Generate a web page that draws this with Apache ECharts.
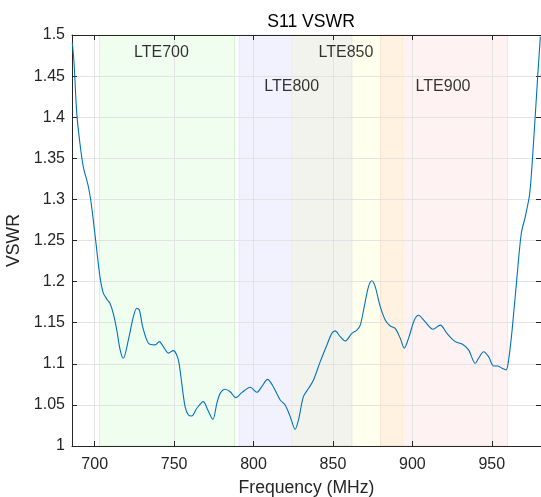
<!DOCTYPE html>
<html>
<head>
<meta charset="utf-8">
<script src="https://cdn.jsdelivr.net/npm/echarts@6/dist/echarts.min.js"></script>
<style>html,body{margin:0;padding:0;background:#fff;}#c{width:541px;height:497px;}</style>
</head>
<body>
<div id="c"></div>
<script>
const freq = [685.9, 687, 688.7, 690.7, 692.8, 696, 697.5, 699.1, 700.8, 703.3,
  705.4, 707.9, 709.6, 711.7, 713.9, 716, 718, 721.2, 724.3, 726.5,
  728.1, 730.2, 733.8, 738, 740.7, 743.2, 746.4, 749.5, 751.6, 753.1,
  754.8, 756.9, 759, 761.1, 764.3, 768.4, 771.2, 774.4, 776.9, 779,
  782.1, 785.3, 788.8, 792.6, 797.9, 802.1, 805.2, 808.8, 811.9, 816.8,
  819.9, 823.1, 826.2, 828.3, 831.4, 834.6, 837.7, 842, 846.2, 849.3,
  851.4, 854.6, 857.7, 861.9, 865.1, 867.2, 869.7, 872.4, 874.5, 876.6,
  879.8, 883, 886.1, 889.2, 892.4, 894.9, 897.6, 901.2, 903.9, 908.1,
  913, 917.6, 921.8, 927, 931.3, 935.4, 939.6, 941.7, 944.9, 948,
  951.2, 953.7, 956.5, 959, 960.6, 962.8, 965.9, 968.6, 971.1, 973.9,
  976.4, 978.9, 980.6];
const vswr = [1.4906, 1.4656, 1.405, 1.368, 1.340, 1.3155, 1.299, 1.275, 1.2466, 1.206,
  1.186, 1.178, 1.1736, 1.161, 1.141, 1.117, 1.1067, 1.129, 1.157, 1.1675,
  1.1655, 1.145, 1.125, 1.123, 1.127, 1.121, 1.113, 1.116, 1.111, 1.1006,
  1.0763, 1.048, 1.0377, 1.0365, 1.0459, 1.054, 1.0438, 1.0324, 1.0519, 1.064,
  1.069, 1.066, 1.0588, 1.0649, 1.0714, 1.0653, 1.0722, 1.081, 1.074, 1.056,
  1.0499, 1.0357, 1.0203, 1.0316, 1.060, 1.070, 1.080, 1.1026, 1.1229, 1.137,
  1.140, 1.133, 1.1277, 1.137, 1.141, 1.147, 1.1695, 1.1938, 1.201, 1.1938,
  1.1695, 1.153, 1.146, 1.143, 1.131, 1.119, 1.131, 1.153, 1.159, 1.151,
  1.142, 1.147, 1.137, 1.127, 1.124, 1.117, 1.1006, 1.1067, 1.1147, 1.1087,
  1.0973, 1.0973, 1.0945, 1.0925, 1.1046, 1.141, 1.206, 1.2588, 1.279, 1.3075,
  1.3723, 1.449, 1.498];

const bandNames = ['LTE700', 'LTE800', 'LTE850', 'LTE900'];
const bandStart = [703, 791, 824, 880];
const bandEnd = [788, 862, 894, 960];
const bandFill = ['rgba(0,230,0,0.06)', 'rgba(0,0,255,0.05)', 'rgba(255,255,0,0.07)', 'rgba(255,0,0,0.05)'];
const bandEdge = ['rgba(0,200,0,0.14)', 'rgba(0,0,200,0.08)', 'rgba(230,200,0,0.12)', 'rgba(230,0,0,0.10)'];
const labelFreq = [742, 824, 858.2, 919.3];
const labelVswr = [1.478, 1.4376, 1.478, 1.4376];

const xTicks = [700, 750, 800, 850, 900, 950];
const xMin = 685.7, xMax = 981;
const yMin = 1, yMax = 1.5, yStep = 0.05;

const FONT = 'Liberation Sans, Arial, Helvetica, sans-serif';
const AX = '#262626';
const GRIDC = '#e3e3e3';

const chart = echarts.init(document.getElementById('c'), null, {renderer: 'canvas'});

const lineData = freq.map((f, i) => [f, vswr[i]]);
const areas = bandNames.map((n, i) => ([
  {xAxis: bandStart[i], itemStyle: {color: bandFill[i], borderColor: bandEdge[i], borderWidth: 1}},
  {xAxis: bandEnd[i]}
]));
const labelData = bandNames.map((n, i) => ({value: [labelFreq[i], labelVswr[i]], name: n}));

chart.setOption({
  animation: false,
  title: {
    text: 'S11 VSWR', left: 306, top: 8, textAlign: 'center',
    textStyle: {fontFamily: FONT, fontSize: 17.6, fontWeight: 'normal', color: '#000'}
  },
  grid: {left: 72, top: 35, right: 0, bottom: 51, outerBoundsMode: 'none', containLabel: false},
  xAxis: [{
    type: 'value', min: xMin, max: xMax, z: 5,
    name: 'Frequency (MHz)', nameLocation: 'middle', nameGap: 33,
    nameTextStyle: {fontFamily: FONT, fontSize: 17.6, color: AX},
    axisLine: {show: true, lineStyle: {color: AX, width: 1}},
    axisTick: {show: true, inside: true, length: 5, lineStyle: {color: AX}, customValues: xTicks},
    axisLabel: {fontFamily: FONT, fontSize: 16, color: AX, margin: 11, customValues: xTicks},
    splitLine: {show: true, lineStyle: {color: GRIDC, width: 1}}
  }, {
    type: 'value', min: xMin, max: xMax, position: 'top', z: 5,
    axisLine: {show: true, lineStyle: {color: AX, width: 1}},
    axisTick: {show: true, inside: true, length: 5, lineStyle: {color: AX}, customValues: xTicks},
    axisLabel: {show: false},
    splitLine: {show: false}
  }],
  yAxis: [{
    type: 'value', min: yMin, max: yMax, interval: yStep, z: 5,
    name: 'VSWR', nameLocation: 'middle', nameGap: 43, nameRotate: 90,
    nameTextStyle: {fontFamily: FONT, fontSize: 17.6, color: AX},
    axisLine: {show: true, lineStyle: {color: AX, width: 1}},
    axisTick: {show: true, inside: true, length: 5, lineStyle: {color: AX}},
    axisLabel: {fontFamily: FONT, fontSize: 16, color: AX, margin: 7,
      formatter: v => String(parseFloat(v.toFixed(2)))},
    splitLine: {show: true, lineStyle: {color: GRIDC, width: 1}}
  }, {
    type: 'value', min: yMin, max: yMax, interval: yStep, position: 'right', z: 5,
    axisLine: {show: true, lineStyle: {color: AX, width: 1}},
    axisTick: {show: true, inside: true, length: 5, lineStyle: {color: AX}},
    axisLabel: {show: false},
    splitLine: {show: false}
  }],
  series: [{
    type: 'line', data: lineData, xAxisIndex: 0, yAxisIndex: 0,
    showSymbol: false, smooth: 0.3, z: 6,
    lineStyle: {color: '#0072BD', width: 1.1},
    markArea: {silent: true, data: areas, label: {show: false}}
  }, {
    type: 'scatter', data: labelData, symbolSize: 0, z: 7, silent: true,
    label: {show: true, position: 'inside', formatter: p => p.name,
      fontFamily: FONT, fontSize: 16, color: '#000'}
  }]
});
</script>
</body>
</html>
